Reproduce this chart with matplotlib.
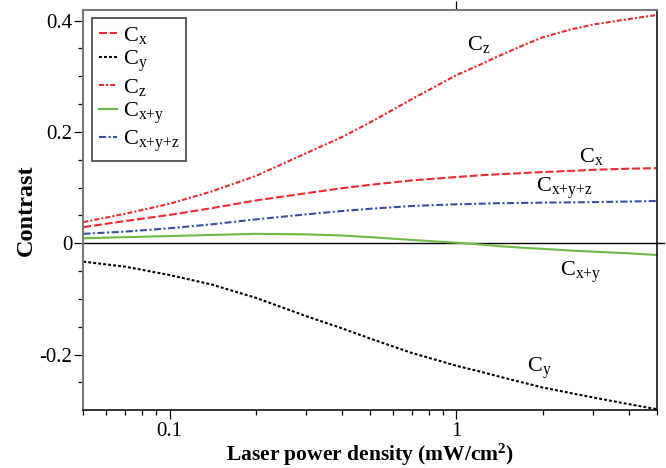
import matplotlib
matplotlib.use("Agg")
import matplotlib.pyplot as plt
from matplotlib.ticker import FixedLocator, FixedFormatter, LogLocator, NullFormatter, MultipleLocator

plt.rcParams['font.family'] = ['Liberation Serif', 'DejaVu Serif']
plt.rcParams['mathtext.fontset'] = 'custom'
plt.rcParams['mathtext.rm'] = 'Liberation Serif'
plt.rcParams['mathtext.it'] = 'Liberation Serif'
plt.rcParams['mathtext.bf'] = 'Liberation Serif:bold'
plt.rcParams['mathtext.default'] = 'rm'

# ---- data ----
power = [0.05, 0.07, 0.1, 0.14, 0.2, 0.3, 0.4, 0.5, 0.7, 1.0, 1.2, 1.4, 1.7, 2.0, 2.5, 3.0, 4.0, 5.0]
c_x    = [0.029, 0.040, 0.051, 0.063, 0.077, 0.090, 0.099, 0.105, 0.113, 0.119, 0.122, 0.124, 0.126, 0.128, 0.130, 0.132, 0.134, 0.135]
c_y    = [-0.033, -0.042, -0.057, -0.074, -0.098, -0.131, -0.153, -0.171, -0.197, -0.220, -0.230, -0.239, -0.250, -0.259, -0.269, -0.277, -0.289, -0.298]
c_z    = [0.038, 0.053, 0.071, 0.093, 0.121, 0.162, 0.191, 0.217, 0.259, 0.302, 0.320, 0.336, 0.355, 0.370, 0.384, 0.393, 0.403, 0.410]
c_xy   = [0.009, 0.011, 0.013, 0.015, 0.017, 0.016, 0.014, 0.011, 0.006, 0.001, -0.002, -0.005, -0.008, -0.010, -0.013, -0.015, -0.018, -0.021]
c_xyz  = [0.017, 0.021, 0.027, 0.034, 0.043, 0.052, 0.058, 0.062, 0.067, 0.070, 0.071, 0.072, 0.0725, 0.073, 0.0735, 0.074, 0.075, 0.076]

series_labels = [r'C$_{\mathrm{x}}$', r'C$_{\mathrm{y}}$', r'C$_{\mathrm{z}}$',
                 r'C$_{\mathrm{x{+}y}}$', r'C$_{\mathrm{x{+}y{+}z}}$']

y_ticks = [-0.2, 0.0, 0.2, 0.4]
y_tick_labels = ['-0.2', '0', '0.2', '0.4']
x_ticks = [0.1, 1]
x_tick_labels = ['0.1', '1']

# annotation anchors (data coords)
annot_x = [2.67, 1.76, 1.09, 2.30, 1.89]
annot_y = [0.1466, -0.2315, 0.3468, -0.0582, 0.0928]

RED = '#ee2a30'
GREEN = '#6cbd45'
BLUE = '#3451a1'

fig = plt.figure(figsize=(6.66, 4.68), dpi=100)
ax = fig.add_axes([83.3 / 666, 1 - 410 / 468, (656.7 - 83.3) / 666, (410 - 9.5) / 468])

lw = 1.5
l1, = ax.plot(power, c_x, color=RED, lw=lw, linestyle=(0, (3.8, 1.4)))
l2, = ax.plot(power, c_y, color='black', lw=lw, linestyle=(0, (1.4, 1.0)))
l3, = ax.plot(power, c_z, color=RED, lw=lw, linestyle=(0, (2.4, 1.0, 1.0, 1.0)))
l4, = ax.plot(power, c_xy, color=GREEN, lw=lw, linestyle='-')
l5, = ax.plot(power, c_xyz, color=BLUE, lw=lw, linestyle=(0, (3.4, 1.2, 1.0, 1.2)))

ax.axhline(0, color='black', lw=1.0, xmin=0, xmax=1 + 7 / 573.4, clip_on=False, zorder=1)

ax.set_xscale('log')
ax.set_xlim(0.05, 5)
ax.set_ylim(-0.2995, 0.42)

ax.xaxis.set_major_locator(FixedLocator(x_ticks))
ax.xaxis.set_major_formatter(FixedFormatter(x_tick_labels))
ax.xaxis.set_minor_locator(LogLocator(base=10, subs=[2, 3, 4, 5, 6, 7, 8, 9]))
ax.xaxis.set_minor_formatter(NullFormatter())
ax.yaxis.set_major_locator(FixedLocator(y_ticks))
ax.yaxis.set_major_formatter(FixedFormatter(y_tick_labels))
ax.yaxis.set_minor_locator(MultipleLocator(0.05))

ax.tick_params(axis='both', which='major', direction='out', length=6.5, width=0.9, labelsize=15, colors='black')
ax.tick_params(axis='both', which='minor', direction='out', length=3.5, width=0.9)
ax.tick_params(axis='y', which='major', pad=1.5)
ax.tick_params(axis='x', which='major', pad=2.5)
ax.tick_params(top=False, right=False, which='both')

for side in ['left', 'top']:
    ax.spines[side].set_color('#7a7a7a')
    ax.spines[side].set_linewidth(1.5)
for side in ['bottom', 'right']:
    ax.spines[side].set_color('black')
    ax.spines[side].set_linewidth(1.1)

sec = ax.secondary_xaxis('top')
sec.set_xticks([1])
sec.set_xticklabels([])
sec.xaxis.set_minor_locator(FixedLocator([]))
sec.tick_params(axis='x', which='major', direction='out', length=6, width=0.9)
sec.spines['top'].set_visible(False)

ax.set_xlabel(r'Laser power density (mW/cm$^{\mathbf{2}}$)', fontsize=15.5, fontweight='bold', labelpad=0)
ax.set_ylabel('Contrast', fontsize=17.5, fontweight='bold', labelpad=1.5)

leg = ax.legend([l1, l2, l3, l4, l5], series_labels, loc='upper left', fontsize=16,
                handlelength=0.8, handletextpad=0.3, labelspacing=0.12,
                borderaxespad=0.4, borderpad=0.3, fancybox=False, framealpha=1)
leg.get_frame().set_edgecolor('#404040')
leg.get_frame().set_linewidth(1.2)

for lbl, xx, yy in zip(series_labels, annot_x, annot_y):
    ax.text(xx, yy, lbl, fontsize=16, ha='left', va='baseline')

fig.savefig('out.png', dpi=100)
